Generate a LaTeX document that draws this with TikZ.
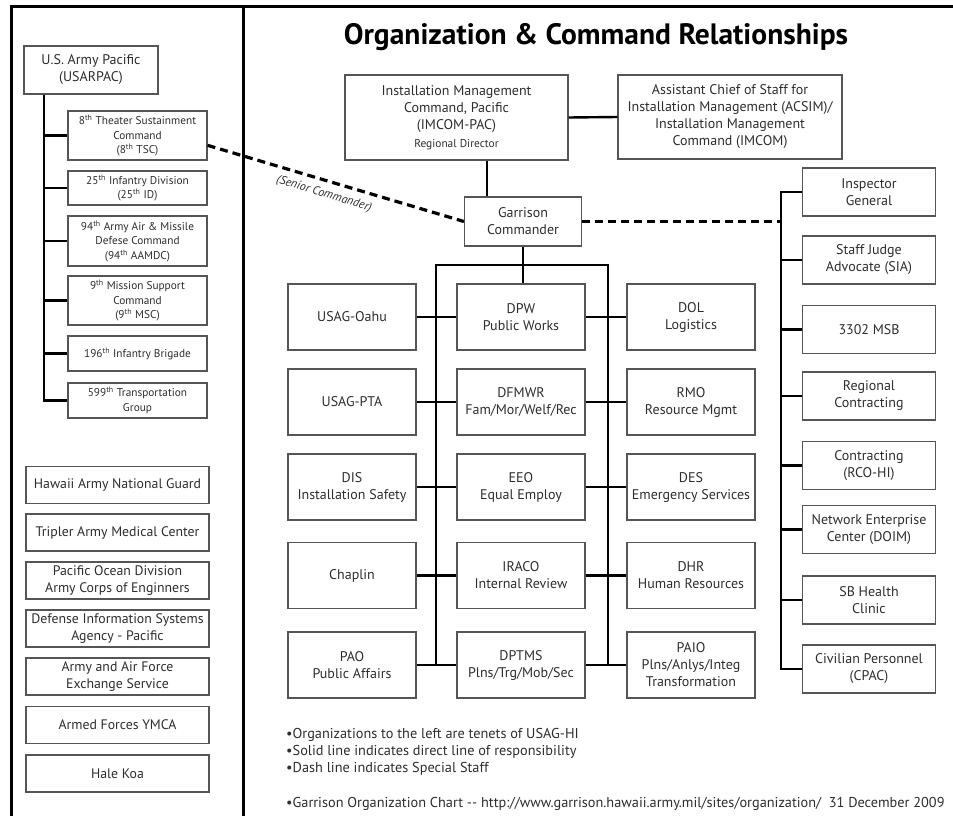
\documentclass[tikz,border=0pt]{standalone}
\usepackage{fontspec}
\setmainfont{PT Sans}
\usetikzlibrary{positioning}
\definecolor{edge}{RGB}{85, 85, 85}
\definecolor{ink}{RGB}{45, 45, 45}

\tikzset{
  unit/.style={draw=edge, line width=1.2pt, align=center, inner sep=0pt, text=ink,
    minimum width=128, minimum height=66, font=\fontsize{14}{17}\selectfont},
  sub/.style={unit, minimum width=139, font=\fontsize{11.3}{14.5}\selectfont},
  tenant/.style={unit, minimum width=183, minimum height=37, font=\fontsize{13.8}{17.5}\selectfont},
  staff/.style={unit, minimum width=133, minimum height=48},
  link/.style={line width=2.4pt},
  special/.style={line width=3.2pt, dash pattern=on 8pt off 5pt},
  note/.style={anchor=west, inner sep=0pt, text=ink, font=\fontsize{14.3}{16}\selectfont}
}

\begin{document}
\begin{tikzpicture}[x=1pt, y=-1pt]
  \useasboundingbox (0, 0) rectangle (953, 816);

  % frame
  \draw[line width=3pt] (11, 816) -- (11, 7) -- (953, 7);
  \draw[line width=3pt] (243, 7) -- (243, 816);

  \node[font=\fontsize{29.5}{32}\selectfont\bfseries] (title) at (596, 37) {Organization \& Command Relationships};

  % USARPAC column
  \node[unit, minimum width=134, minimum height=48] (usarpac) at (91, 70) {U.S. Army Pacific\\(USARPAC)};
  \node[sub, minimum height=49] (tsc) at (137.5, 135.5) {8\textsuperscript{th} Theater Sustainment\\Command\\(8\textsuperscript{th} TSC)};
  \node[sub, minimum height=34] (id) at (137.5, 188) {25\textsuperscript{th} Infantry Division\\(25\textsuperscript{th} ID)};
  \node[sub, minimum height=50] (aamdc) at (137.5, 241) {94\textsuperscript{th} Army Air \& Missile\\Defese Command\\(94\textsuperscript{th} AAMDC)};
  \node[sub, minimum height=49] (msc) at (137.5, 300.5) {9\textsuperscript{th} Mission Support\\Command\\(9\textsuperscript{th} MSC)};
  \node[sub, minimum height=35] (inf) at (137.5, 353.5) {196\textsuperscript{th} Infantry Brigade};
  \node[sub, minimum height=35] (trans) at (137.5, 400.5) {599\textsuperscript{th} Transportation\\Group};

  \coordinate (lt) at (44, 0);
  \draw[link] (usarpac.south -| lt) |- (trans.west);
  \foreach \n in {tsc, id, aamdc, msc, inf} {
    \draw[link] (\n.west -| lt) -- (\n.west);
  }

  % tenants
  \node[tenant] (hing) at (117.5, 485) {Hawaii Army National Guard};
  \node[tenant] (tamc) at (117.5, 532.5) {Tripler Army Medical Center};
  \node[tenant] (pod) at (117.5, 580.5) {Pacific Ocean Division\\Army Corps of Enginners};
  \node[tenant] (disa) at (117.5, 628.5) {Defense Information Systems\\Agency - Pacific};
  \node[tenant] (aafes) at (117.5, 676.5) {Army and Air Force\\Exchange Service};
  \node[tenant] (ymca) at (117.5, 725) {Armed Forces YMCA};
  \node[tenant] (koa) at (117.5, 773.5) {Hale Koa};

  % headquarters
  \node[unit, minimum width=223, minimum height=85] (imcompac) at (456.5, 117.5)
    {Installation Management\\Command, Pacific\\(IMCOM-PAC)\\[1pt]{\fontsize{11.4}{13}\selectfont Regional Director}};
  \node[unit, minimum width=224, minimum height=84] (acsim) at (730, 117)
    {Assistant Chief of Staff for\\Installation Management (ACSIM)/\\Installation Management\\Command (IMCOM)};
  \node[unit, minimum width=117, minimum height=49] (garrison) at (523, 221.5) {Garrison\\Commander};

  \coordinate (gx) at (487, 0);
  \draw[link] (imcompac.east) -- (acsim.west);
  \draw[link] (imcompac.south -| gx) -- (garrison.north -| gx);

  % directorates
  \node[unit] (oahu) at (352, 317) {USAG-Oahu};
  \node[unit] (dpw) at (521, 317) {DPW\\Public Works};
  \node[unit] (dol) at (691, 317) {DOL\\Logistics};
  \node[unit] (pta) at (352, 402) {USAG-PTA};
  \node[unit] (dfmwr) at (521, 402) {DFMWR\\Fam/Mor/Welf/Rec};
  \node[unit] (rmo) at (691, 402) {RMO\\Resource Mgmt};
  \node[unit] (dis) at (352, 487) {DIS\\Installation Safety};
  \node[unit] (eeo) at (521, 487) {EEO\\Equal Employ};
  \node[unit] (des) at (691, 487) {DES\\Emergency Services};
  \node[unit] (chaplin) at (352, 575.5) {Chaplin};
  \node[unit] (iraco) at (521, 575.5) {IRACO\\Internal Review};
  \node[unit] (dhr) at (691, 575.5) {DHR\\Human Resources};
  \node[unit] (pao) at (352, 665) {PAO\\Public Affairs};
  \node[unit] (dptms) at (521, 665) {DPTMS\\Plns/Trg/Mob/Sec};
  \node[unit] (paio) at (691, 665) {PAIO\\Plns/Anlys/Integ\\Transformation};

  \coordinate (bl) at (436, 265);
  \coordinate (br) at (608, 265);
  \draw[link] (garrison.south) -- (garrison.south |- dpw.north);
  \draw[link] (bl |- pao.east) -- (bl) -- (br) -- (br |- paio.west);
  \foreach \l/\m/\r in {oahu/dpw/dol, pta/dfmwr/rmo, dis/eeo/des, chaplin/iraco/dhr, pao/dptms/paio} {
    \draw[link] (\l.east) -- (\m.west);
    \draw[link] (\m.east) -- (\r.west);
  }

  % special staff
  \node[staff] (ig) at (869, 192) {Inspector\\General};
  \node[staff] (sja) at (869, 260) {Staff Judge\\Advocate (SIA)};
  \node[staff] (msb) at (869, 329.5) {3302 MSB};
  \node[staff] (rc) at (869, 396) {Regional\\Contracting};
  \node[staff] (rco) at (869, 465.5) {Contracting\\(RCO-HI)};
  \node[staff] (nec) at (869, 529.5) {Network Enterprise\\Center (DOIM)};
  \node[staff] (sbh) at (869, 600) {SB Health\\Clinic};
  \node[staff] (cpac) at (869, 669) {Civilian Personnel\\(CPAC)};

  \coordinate (rt) at (781, 0);
  \draw[link] (ig.west) -| (rt |- cpac.west) -- (cpac.west);
  \foreach \n in {sja, msb, rc, rco, nec, sbh} {
    \draw[link] (\n.west -| rt) -- (\n.west);
  }

  % dashed relations
  \draw[special] (tsc.-8) -- (garrison.west);
  \draw[special] (garrison.east) -- (garrison.east -| rt);
  \node[rotate=-16.8, inner sep=0pt, text=ink, font=\fontsize{12}{13}\selectfont\itshape] (senior) at (324, 194) {(Senior Commander)};

  % notes
  \node[note] (n1) at (286, 735) {•Organizations to the left are tenets of USAG-HI};
  \node[note] (n2) at (286, 752) {•Solid line indicates direct line of responsibility};
  \node[note] (n3) at (286, 769) {•Dash line indicates Special Staff};
  \node[note] (n4) at (286, 804) {•Garrison Organization Chart -{}- http://www.garrison.hawaii.army.mil/sites/organization/\ \ 31 December 2009};
\end{tikzpicture}
\end{document}
